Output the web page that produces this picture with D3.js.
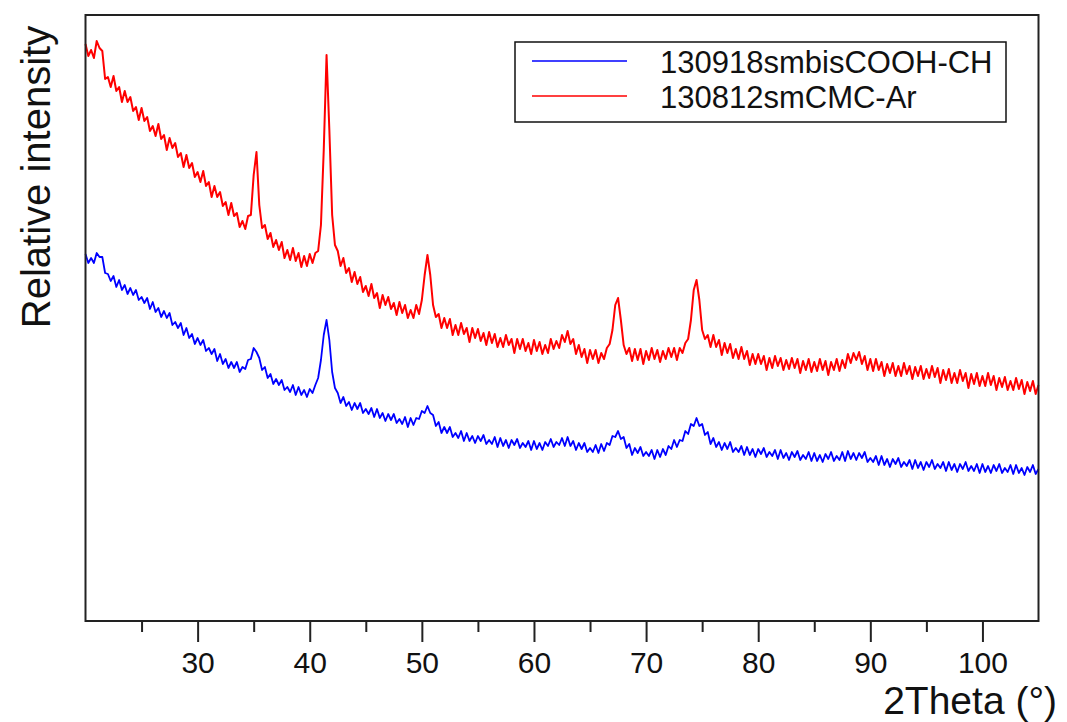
<!DOCTYPE html>
<html>
<head>
<meta charset="utf-8">
<script src="https://cdn.jsdelivr.net/npm/d3@7"></script>
<style>
	body { margin: 0; background: #fff; }
	text { font-family: "Liberation Sans", Arial, sans-serif; fill: #111; }
</style>
</head>
<body>
<svg></svg>
<script>
const width = 1067;
const height = 722;
const svg = d3.select("svg").attr("width", width).attr("height", height);

// scan: start angle and step (degrees 2Theta)
const thetaStart = 20;
const thetaStep = 0.25;

// 130812smCMC-Ar (red), one value per step
const redCounts = [
	577,565,571,563,580,573,570,542,
	544,534,545,530,534,519,530,519,
	524,510,514,501,513,500,504,490,
	495,485,497,482,486,471,483,473,
	478,464,468,454,466,453,458,444,
	449,439,450,435,439,424,435,424,
	429,415,419,406,418,405,408,394,
	400,392,405,406,446,469,416,393,
	396,382,388,374,381,371,379,363,
	371,361,373,360,368,354,365,355,
	367,358,368,370,396,471,566,491,
	406,376,370,355,363,348,353,339,
	349,337,344,329,335,325,337,323,
	328,313,326,316,324,312,318,306,
	319,308,316,303,311,303,316,307,
	321,346,366,346,316,304,307,293,
	303,293,302,286,296,286,298,287,
	293,279,293,283,292,280,288,276,
	289,278,287,274,283,274,286,276,
	282,268,282,272,282,270,278,267,
	281,270,279,267,276,268,282,272,
	280,273,286,279,290,277,282,267,
	276,264,272,258,271,262,271,258,
	268,262,273,277,291,316,323,301,
	276,267,273,260,272,261,272,257,
	270,261,273,262,271,259,270,262,
	273,264,273,261,273,268,278,282,
	301,331,341,321,291,282,286,274,
	286,274,281,266,278,268,277,263,
	272,262,274,262,270,256,267,257,
	267,257,265,251,263,253,265,255,
	263,251,261,252,263,253,262,248,
	260,251,262,249,259,250,262,251,
	260,246,259,251,262,250,261,253,
	267,258,268,261,269,257,265,251,
	262,250,262,251,259,245,257,248,
	258,245,255,245,258,247,255,242,
	254,245,255,242,252,243,255,244,
	253,238,251,241,252,238,248,238,
	251,240,248,233,247,237,248,235,
	245,235,248,236,245,231,243,234,
	244,231,240,231,243,232,241,227,
	239,230,240,227,236
];

// 130918smbisCOOH-CH (blue)
const blueCounts = [
	367,358,363,358,368,364,364,348,
	347,340,345,334,341,331,336,327,
	333,326,331,321,324,318,323,312,
	319,309,313,304,310,303,308,296,
	299,293,298,286,293,283,287,277,
	283,276,281,270,273,267,272,260,
	267,257,262,253,259,253,259,249,
	254,252,261,262,273,269,263,251,
	254,243,247,237,242,236,241,231,
	234,229,236,226,234,226,231,224,
	232,228,236,243,261,286,301,281,
	249,233,228,218,224,215,219,211,
	218,212,218,208,212,207,213,204,
	212,203,208,200,207,201,207,198,
	202,197,204,194,203,196,203,202,
	210,208,215,208,206,195,199,188,
	194,188,194,184,188,183,190,180,
	188,180,185,178,185,180,186,177,
	181,177,184,174,183,175,181,173,
	181,176,182,173,178,174,180,171,
	180,172,178,171,179,175,182,174,
	179,176,183,175,184,175,180,171,
	178,172,178,169,173,169,176,168,
	177,170,178,176,185,184,190,182,
	184,173,177,166,173,168,174,165,
	169,165,171,162,171,164,172,166,
	175,172,181,174,181,180,190,187,
	197,195,203,195,197,186,189,177,
	183,174,179,171,178,172,179,169,
	173,169,175,166,174,166,172,164,
	172,167,173,164,169,165,171,162,
	171,163,168,161,169,164,170,161,
	166,162,169,160,168,160,166,159,
	167,162,169,160,165,161,169,160,
	170,162,168,161,168,163,169,159,
	163,159,165,156,165,156,162,154,
	162,157,163,154,159,155,161,152,
	161,153,159,151,159,154,161,152,
	157,153,159,150,159,151,157,149,
	157,152,159,150,155,150,157,148,
	157,149,155,148,156,150,157,148,
	153,149,156,147,156,148,153,146,
	154,149,156,147,152
];

const seriesNames = ["130918smbisCOOH-CH", "130812smCMC-Ar"];
const seriesColors = ["#0000ff", "#ff0000"];
const majorTicks = [30, 40, 50, 60, 70, 80, 90, 100];
const minorTicks = [25, 35, 45, 55, 65, 75, 85, 95];

const plot = { left: 85.5, right: 1038.5, top: 15, bottom: 621 };

const x = d3.scaleLinear().domain([20, 105]).range([plot.left, plot.right]);
const y = d3.scaleLinear().domain([0, 606]).range([plot.bottom, plot.top]);

svg.append("rect")
	.attr("width", width)
	.attr("height", height)
	.attr("fill", "#fff");

// curves (noisy scans, drawn a bit heavy)
const line = d3.line()
	.x((d, i) => x(thetaStart + i * thetaStep))
	.y(d => y(d));

[blueCounts, redCounts].forEach((counts, k) => {
	svg.append("path")
		.attr("d", line(counts))
		.attr("fill", "none")
		.attr("stroke", seriesColors[k])
		.attr("stroke-width", k == 1 ? 2 : 1.8)
		.attr("stroke-linejoin", "round");
});

// frame
svg.append("rect")
	.attr("x", plot.left)
	.attr("y", plot.top)
	.attr("width", plot.right - plot.left)
	.attr("height", plot.bottom - plot.top)
	.attr("fill", "none")
	.attr("stroke", "#222")
	.attr("stroke-width", 2);

// x axis, major and minor ticks
const majorAxis = svg.append("g")
	.attr("transform", `translate(0,${plot.bottom})`)
	.call(d3.axisBottom(x).tickValues(majorTicks).tickSize(21).tickPadding(10).tickFormat(d3.format("d")));
const minorAxis = svg.append("g")
	.attr("transform", `translate(0,${plot.bottom})`)
	.call(d3.axisBottom(x).tickValues(minorTicks).tickSize(11).tickFormat(""));

[majorAxis, minorAxis].forEach(g => {
	g.select(".domain").remove();
	g.selectAll("line").attr("stroke", "#222").attr("stroke-width", 2);
});
majorAxis.selectAll("text")
	.style("font-size", "30px")
	.style("font-family", "'Liberation Sans', Arial, sans-serif")
	.attr("fill", "#111");

// axis titles
svg.append("text")
	.attr("x", 1057)
	.attr("y", 714)
	.attr("text-anchor", "end")
	.style("font-size", "39px")
	.text("2Theta (°)");

svg.append("text")
	.attr("transform", "translate(50,177) rotate(-90)")
	.attr("text-anchor", "middle")
	.style("font-size", "40px")
	.text("Relative intensity");

// legend
const legend = svg.append("g");
legend.append("rect")
	.attr("x", 515)
	.attr("y", 42)
	.attr("width", 491)
	.attr("height", 80)
	.attr("fill", "#fff")
	.attr("stroke", "#111")
	.attr("stroke-width", 1.5);

seriesNames.forEach((name, i) => {
	const ly = 61 + i * 35;
	legend.append("line")
		.attr("x1", 532)
		.attr("x2", 627)
		.attr("y1", ly)
		.attr("y2", ly)
		.attr("stroke", seriesColors[i])
		.attr("stroke-width", 1.5);
	legend.append("text")
		.attr("x", 660)
		.attr("y", ly + 12)
		.style("font-size", "31px")
		.text(name);
});
</script>
</body>
</html>
